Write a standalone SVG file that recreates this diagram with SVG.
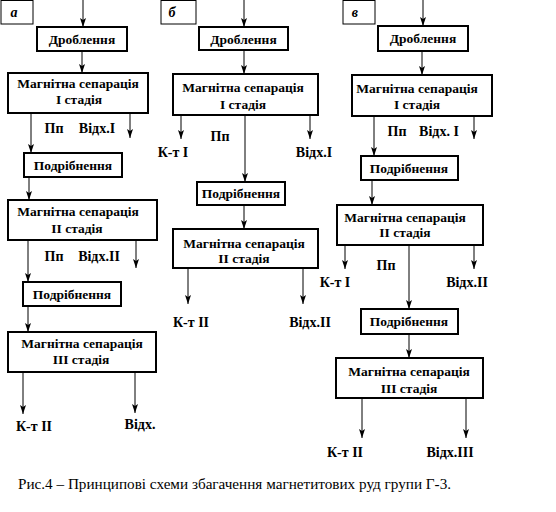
<svg xmlns="http://www.w3.org/2000/svg" width="556" height="512" viewBox="0 0 556 512">
<defs>
<marker id="ah" markerUnits="userSpaceOnUse" markerWidth="10" markerHeight="8" refX="9" refY="3" orient="auto">
<path d="M0,0 L9,3 L0,6 L2,3 z" fill="#000"/>
</marker>
<style>
.box{fill:#fff;stroke:#000;stroke-width:2}
.lbl{fill:#fff;stroke:#000;stroke-width:1}
.t{font-family:"Liberation Serif","Times New Roman",serif;font-size:13.5px;font-weight:bold;text-anchor:middle;fill:#000}
.o{font-family:"Liberation Serif","Times New Roman",serif;font-size:14px;font-weight:bold;text-anchor:middle;fill:#000}
.it{font-family:"Liberation Serif","Times New Roman",serif;font-size:14px;font-weight:bold;font-style:italic;text-anchor:middle;fill:#000}
.cap{font-family:"Liberation Serif","Times New Roman",serif;font-size:15.2px;fill:#000}
.c{stroke:#000;stroke-width:1;fill:none;marker-end:url(#ah)}
</style>
</defs>
<rect width="556" height="512" fill="#fff"/>

<g id="connectors">
<!-- a -->
<line class="c" x1="83" y1="0" x2="83" y2="27"/>
<line class="c" x1="82" y1="51" x2="82" y2="73"/>
<line class="c" x1="31" y1="113" x2="31" y2="153"/>
<line class="c" x1="130" y1="113" x2="130" y2="138"/>
<line class="c" x1="29" y1="177" x2="29" y2="200"/>
<line class="c" x1="28" y1="240" x2="28" y2="282"/>
<line class="c" x1="136" y1="240" x2="136" y2="268"/>
<line class="c" x1="28" y1="306" x2="28" y2="332"/>
<line class="c" x1="23" y1="372" x2="23" y2="414"/>
<line class="c" x1="135" y1="372" x2="135" y2="413"/>
<!-- b -->
<line class="c" x1="244" y1="0" x2="244" y2="27"/>
<line class="c" x1="244" y1="50" x2="244" y2="74"/>
<line class="c" x1="181" y1="115" x2="181" y2="139"/>
<line class="c" x1="310" y1="115" x2="310" y2="139"/>
<line class="c" x1="245" y1="115" x2="245" y2="182"/>
<line class="c" x1="244" y1="205" x2="244" y2="229"/>
<line class="c" x1="188" y1="268" x2="188" y2="304"/>
<line class="c" x1="303" y1="268" x2="303" y2="304"/>
<!-- c -->
<line class="c" x1="423" y1="0" x2="423" y2="26"/>
<line class="c" x1="422" y1="51" x2="422" y2="75"/>
<line class="c" x1="374" y1="116" x2="374" y2="156"/>
<line class="c" x1="474" y1="116" x2="474" y2="139"/>
<line class="c" x1="372" y1="180" x2="372" y2="205"/>
<line class="c" x1="345" y1="245" x2="345" y2="269"/>
<line class="c" x1="474" y1="245" x2="474" y2="269"/>
<line class="c" x1="409" y1="245" x2="409" y2="309"/>
<line class="c" x1="409" y1="334" x2="409" y2="358"/>
<line class="c" x1="362" y1="398" x2="362" y2="438"/>
<line class="c" x1="466" y1="398" x2="466" y2="438"/>
</g>

<!-- column a -->
<g id="label-a"><rect class="lbl" x="1" y="0.5" width="32" height="23.5"/><text class="it" x="14" y="17">а</text></g>
<g id="a-drob"><rect class="box" x="37" y="27" width="90" height="24"/><text class="t" x="82" y="44">Дроблення</text></g>
<g id="a-ms1"><rect class="box" x="8" y="73" width="140" height="40"/><text class="t" x="78" y="88">Магнітна сепарація</text><text class="t" x="79" y="104">І стадія</text></g>
<g id="a-out1"><text class="o" x="54" y="133">Пп</text><text class="o" x="97" y="133">Відх.І</text></g>
<g id="a-podr1"><rect class="box" x="24" y="153" width="98" height="24"/><text class="t" x="73" y="170">Подрібнення</text></g>
<g id="a-ms2"><rect class="box" x="8" y="200" width="149" height="40"/><text class="t" x="78" y="216">Магнітна сепарація</text><text class="t" x="77" y="233">ІІ стадія</text></g>
<g id="a-out2"><text class="o" x="54" y="261">Пп</text><text class="o" x="99" y="261">Відх.ІІ</text></g>
<g id="a-podr2"><rect class="box" x="23" y="282" width="98" height="24"/><text class="t" x="72" y="299">Подрібнення</text></g>
<g id="a-ms3"><rect class="box" x="8" y="332" width="148" height="40"/><text class="t" x="82" y="348">Магнітна сепарація</text><text class="t" x="81" y="364">ІІІ стадія</text></g>
<g id="a-out3"><text class="o" x="34" y="431">К-т ІІ</text><text class="o" x="140" y="429">Відх.</text></g>

<!-- column b -->
<g id="label-b"><rect class="lbl" x="161" y="0.5" width="35" height="23.5"/><text class="it" x="172" y="17">б</text></g>
<g id="b-drob"><rect class="box" x="199" y="27" width="89" height="23"/><text class="t" x="243.5" y="44">Дроблення</text></g>
<g id="b-ms1"><rect class="box" x="173" y="74" width="145" height="41"/><text class="t" x="243" y="92">Магнітна сепарація</text><text class="t" x="243" y="109">І стадія</text></g>
<g id="b-out1"><text class="o" x="220" y="141">Пп</text><text class="o" x="173" y="157">К-т І</text><text class="o" x="314" y="157">Відх.І</text></g>
<g id="b-podr1"><rect class="box" x="197" y="182" width="88" height="23"/><text class="t" x="241" y="198">Подрібнення</text></g>
<g id="b-ms2"><rect class="box" x="173" y="229" width="145" height="39"/><text class="t" x="244" y="248">Магнітна сепарація</text><text class="t" x="244" y="263">ІІ стадія</text></g>
<g id="b-out2"><text class="o" x="191" y="327">К-т ІІ</text><text class="o" x="310" y="327">Відх.ІІ</text></g>

<!-- column c -->
<g id="label-c"><rect class="lbl" x="343" y="0.5" width="32" height="23.5"/><text class="it" x="355" y="17">в</text></g>
<g id="c-drob"><rect class="box" x="378" y="26" width="90" height="25"/><text class="t" x="423" y="43">Дроблення</text></g>
<g id="c-ms1"><rect class="box" x="352" y="75" width="140" height="41"/><text class="t" x="417" y="93">Магнітна сепарація</text><text class="t" x="417" y="109">І стадія</text></g>
<g id="c-out1"><text class="o" x="397" y="136">Пп</text><text class="o" x="439" y="136">Відх. І</text></g>
<g id="c-podr1"><rect class="box" x="361" y="156" width="97" height="24"/><text class="t" x="409" y="173">Подрібнення</text></g>
<g id="c-ms2"><rect class="box" x="337" y="205" width="146" height="40"/><text class="t" x="405" y="222">Магнітна сепарація</text><text class="t" x="405" y="237">ІІ стадія</text></g>
<g id="c-out2"><text class="o" x="335" y="287">К-т І</text><text class="o" x="386" y="270">Пп</text><text class="o" x="467" y="287">Відх.ІІ</text></g>
<g id="c-podr2"><rect class="box" x="361" y="309" width="97" height="25"/><text class="t" x="409" y="326">Подрібнення</text></g>
<g id="c-ms3"><rect class="box" x="336" y="358" width="147" height="40"/><text class="t" x="409" y="376">Магнітна сепарація</text><text class="t" x="409" y="393">ІІІ стадія</text></g>
<g id="c-out3"><text class="o" x="345" y="457">К-т ІІ</text><text class="o" x="450" y="457">Відх.ІІІ</text></g>

<text class="cap" x="18" y="489">Рис.4 – Принципові схеми збагачення магнетитових руд групи Г-3.</text>
</svg>
